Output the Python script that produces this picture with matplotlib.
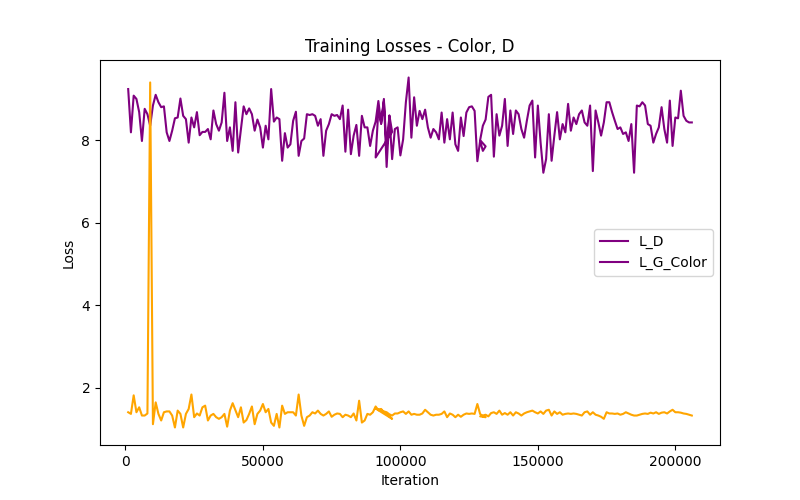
import numpy as np
import matplotlib
matplotlib.use('Agg')
import matplotlib.pyplot as plt
from matplotlib.lines import Line2D

# three logged runs, iterations overlap where training was resumed
iters_1 = np.arange(1000, 98000, 1000)
iters_2 = np.arange(91000, 132000, 1000)
iters_3 = np.arange(129000, 207000, 1000)

g_color_1 = [9.24, 8.19, 9.08, 9.00, 8.68, 7.98, 8.76, 8.63, 8.35, 8.84,
             9.10, 8.92, 8.80, 8.82, 8.19, 7.98, 8.23, 8.53, 8.55, 9.01,
             8.59, 8.51, 7.94, 8.55, 8.31, 8.68, 8.12, 8.20, 8.20, 8.27,
             8.02, 8.72, 8.39, 8.23, 8.43, 9.15, 7.98, 8.31, 7.74, 8.92,
             7.70, 8.27, 8.82, 8.63, 8.77, 8.63, 8.23, 8.50, 8.31, 7.82,
             8.35, 8.02, 9.24, 8.45, 8.55, 8.51, 7.50, 8.17, 7.82, 7.90,
             8.47, 8.69, 7.62, 7.98, 8.04, 8.63, 8.61, 8.63, 8.59, 8.35,
             8.51, 7.62, 8.23, 8.39, 8.63, 8.59, 8.61, 8.51, 8.84, 7.72,
             8.74, 7.66, 8.11, 8.37, 7.62, 8.59, 8.31, 8.31, 7.86, 8.23,
             8.45, 8.95, 8.40, 9.00, 7.35, 8.60, 8.20]
g_color_2 = [7.58, 8.75, 8.40, 8.95, 7.80, 8.59, 7.54,
             8.27, 8.31, 7.63, 8.02, 8.92, 9.52, 8.06, 9.04, 8.35, 8.71,
             8.51, 8.74, 8.31, 8.06, 8.27, 8.19, 8.02, 8.67, 7.94, 8.51,
             8.02, 8.67, 7.90, 7.74, 8.55, 8.10, 8.67, 8.80, 8.82, 8.71,
             7.49, 7.98, 7.74, 7.85]
g_color_3 = [8.00, 8.35, 8.50, 9.05, 9.10, 7.60, 8.63, 8.11, 8.35, 9.00,
             7.86, 8.72, 8.15, 8.72, 8.63, 8.27, 8.06, 8.47, 8.84, 8.96,
             7.58, 8.84, 7.94, 7.21, 7.54, 8.63, 7.50, 8.11, 8.68, 8.02,
             8.39, 8.19, 8.88, 8.23, 8.55, 8.39, 8.63, 8.72, 8.43, 8.35,
             8.84, 7.25, 8.72, 8.43, 8.11, 8.43, 8.92, 8.92, 8.68, 8.47,
             8.27, 8.31, 8.15, 8.19, 7.98, 8.39, 7.21, 8.84, 8.82, 8.92,
             8.84, 8.39, 8.35, 7.94, 8.15, 8.31, 8.80, 8.27, 7.94, 8.96,
             7.86, 8.55, 8.53, 9.20, 8.59, 8.47, 8.43, 8.43]

d_1 = [1.40, 1.36, 1.81, 1.40, 1.52, 1.32, 1.32, 1.37, 9.40, 1.11,
       1.64, 1.36, 1.20, 1.40, 1.42, 1.42, 1.32, 1.03, 1.44, 1.36,
       1.03, 1.36, 1.48, 1.83, 1.28, 1.37, 1.32, 1.52, 1.56, 1.20,
       1.32, 1.36, 1.28, 1.24, 1.28, 1.36, 1.05, 1.44, 1.62, 1.45,
       1.28, 1.52, 1.15, 1.21, 1.36, 1.54, 1.11, 1.36, 1.44, 1.60,
       1.40, 1.48, 1.15, 1.07, 1.36, 1.03, 1.56, 1.36, 1.40, 1.40,
       1.40, 1.32, 1.83, 1.32, 1.07, 1.28, 1.32, 1.40, 1.37, 1.44,
       1.36, 1.32, 1.36, 1.42, 1.29, 1.34, 1.37, 1.36, 1.28, 1.34,
       1.32, 1.28, 1.37, 1.20, 1.68, 1.15, 1.20, 1.36, 1.34, 1.40,
       1.54, 1.45, 1.48, 1.40, 1.35, 1.30, 1.24]
d_2 = [1.49, 1.47, 1.45, 1.42, 1.40, 1.35, 1.32, 1.37, 1.37, 1.40,
       1.42, 1.36, 1.42, 1.34, 1.36, 1.34, 1.34, 1.37, 1.46, 1.40,
       1.34, 1.32, 1.34, 1.34, 1.36, 1.42, 1.28, 1.37, 1.34, 1.28,
       1.34, 1.29, 1.34, 1.37, 1.36, 1.37, 1.36, 1.60, 1.36, 1.30,
       1.28]
d_3 = [1.30, 1.32, 1.34, 1.30, 1.38, 1.40, 1.36, 1.44, 1.34, 1.38,
       1.34, 1.40, 1.32, 1.40, 1.37, 1.32, 1.37, 1.40, 1.42, 1.44,
       1.40, 1.37, 1.42, 1.36, 1.44, 1.46, 1.32, 1.42, 1.36, 1.40,
       1.34, 1.36, 1.37, 1.36, 1.37, 1.36, 1.34, 1.32, 1.40, 1.42,
       1.34, 1.40, 1.34, 1.32, 1.29, 1.24, 1.40, 1.37, 1.37, 1.36,
       1.37, 1.34, 1.36, 1.40, 1.37, 1.34, 1.32, 1.32, 1.34, 1.36,
       1.37, 1.36, 1.39, 1.37, 1.40, 1.36, 1.39, 1.40, 1.37, 1.42,
       1.46, 1.40, 1.40, 1.39, 1.37, 1.36, 1.34, 1.32]

iters = np.concatenate([iters_1, iters_2, iters_3])
g_color = np.concatenate([g_color_1, g_color_2, g_color_3])
d_loss = np.concatenate([d_1, d_2, d_3])

fig, ax = plt.subplots(figsize=(8, 5), dpi=100)
ax.plot(iters, g_color, color='purple')
ax.plot(iters, d_loss, color='orange')
ax.set_title('Training Losses - Color, D')
ax.set_xlabel('Iteration')
ax.set_ylabel('Loss')
# legend shows both entries in purple, as in the original
handles = [Line2D([], [], color='purple', label='L_D'),
           Line2D([], [], color='purple', label='L_G_Color')]
ax.legend(handles=handles, loc='center right')
plt.savefig('out.png')
